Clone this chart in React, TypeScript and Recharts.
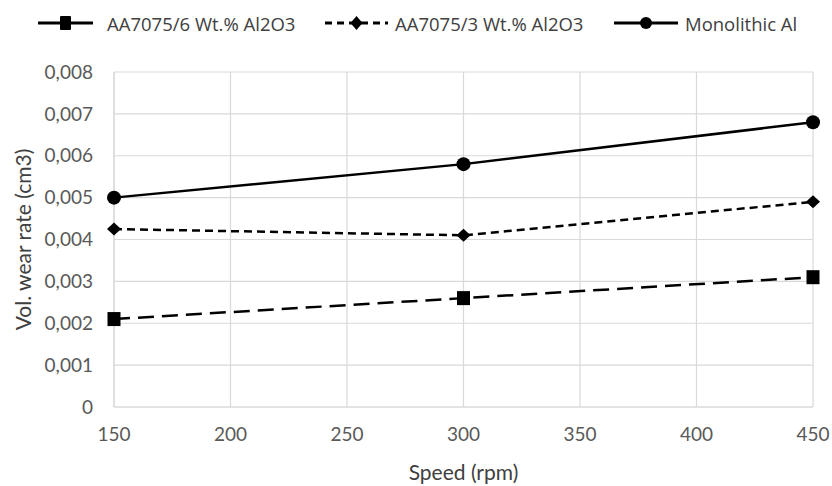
import { LineChart, Line, XAxis, YAxis, CartesianGrid, Legend } from 'recharts';

const speeds = [150, 300, 450];
const al2o3Six = [0.0021, 0.0026, 0.0031];
const al2o3Three = [0.00425, 0.0041, 0.0049];
const monolithic = [0.005, 0.0058, 0.0068];
const xTicks = [150, 200, 250, 300, 350, 400, 450];
const yTicks = [0, 0.001, 0.002, 0.003, 0.004, 0.005, 0.006, 0.007, 0.008];

const data = speeds.map((s, i) => ({
  speed: s,
  six: al2o3Six[i],
  three: al2o3Three[i],
  mono: monolithic[i],
}));

const tickFont = { fontFamily: 'Lato, sans-serif', fontSize: 19, fill: '#595959' };
const titleFont = { fontFamily: 'Lato, sans-serif', fontSize: 21, fill: '#404040' };

const SquareDot = (props: any) => {
  const { cx, cy } = props;
  return <rect x={cx - 6.5} y={cy - 7} width={13} height={14} fill="#000" />;
};

const DiamondDot = (props: any) => {
  const { cx, cy } = props;
  return <path d={`M${cx},${cy - 6.5} L${cx + 7},${cy} L${cx},${cy + 6.5} L${cx - 7},${cy} Z`} fill="#000" />;
};

const CircleDot = (props: any) => {
  const { cx, cy } = props;
  return <circle cx={cx} cy={cy} r={7} fill="#000" />;
};

// legend swatch widths / gaps
const legendItems = [
  { label: 'AA7075/6 Wt.% Al2O3', dash: undefined, marker: 'square', line: 55, gap: 14, text: 200, after: 18 },
  { label: 'AA7075/3 Wt.% Al2O3', dash: '7 5', marker: 'diamond', line: 63, gap: 7, text: 200, after: 19 },
  { label: 'Monolithic Al', dash: undefined, marker: 'circle', line: 64, gap: 7, text: 130, after: 0 },
];

function renderLegend() {
  return (
    <div style={{ display: 'flex', alignItems: 'center', height: 30, fontFamily: '"Open Sans", sans-serif', fontSize: 18.5, color: '#404040' }}>
      {legendItems.map((item, i) => {
        const m = item.line / 2;
        return (
          <div key={i} style={{ display: 'flex', alignItems: 'center', marginRight: item.after, flexShrink: 0 }}>
            <svg width={item.line} height={18} style={{ marginRight: item.gap, flexShrink: 0 }}>
              <line x1={0} y1={9} x2={item.line} y2={9} stroke="#000" strokeWidth={3} strokeDasharray={item.dash} />
              {item.marker === 'square' && <rect x={m - 5.5} y={2} width={11} height={14} fill="#000" rx={1} />}
              {item.marker === 'diamond' && (
                <path d={`M${m},2 L${m + 6},9 L${m},16 L${m - 6},9 Z`} fill="#000" />
              )}
              {item.marker === 'circle' && <circle cx={m} cy={9} r={6} fill="#000" />}
            </svg>
            <span style={{ width: item.text, whiteSpace: 'nowrap', flexShrink: 0 }}>{item.label}</span>
          </div>
        );
      })}
    </div>
  );
}

export default function App() {
  return (
    <div style={{ width: 832, height: 486, background: '#fff', position: 'absolute', left: 0, top: 0 }}>
      <LineChart width={832} height={486} data={data} margin={{ top: 42, right: 19, bottom: 0, left: 0 }}>
        <CartesianGrid stroke="#d9d9d9" strokeWidth={1.2} />
        <Legend
          verticalAlign="top"
          content={renderLegend}
          wrapperStyle={{ top: 8, left: 38, width: 790, height: 30 }}
        />
        <XAxis
          dataKey="speed"
          type="number"
          domain={[150, 450]}
          ticks={xTicks}
          tick={tickFont}
          tickLine={false}
          tickSize={0}
          tickMargin={21}
          axisLine={{ stroke: '#d9d9d9', strokeWidth: 1.2 }}
          height={79}
          label={{ value: 'Speed (rpm)', position: 'insideBottom', offset: 6, style: titleFont }}
        />
        <YAxis
          type="number"
          domain={[0, 0.008]}
          ticks={yTicks}
          tick={tickFont}
          tickFormatter={(v: number) => (v === 0 ? '0' : v.toFixed(3).replace('.', ','))}
          tickLine={false}
          tickSize={0}
          tickMargin={21}
          axisLine={{ stroke: '#d9d9d9', strokeWidth: 1.2 }}
          width={114}
          label={{ value: 'Vol. wear rate (cm3)', angle: -90, position: 'insideLeft', offset: 24, style: { ...titleFont, textAnchor: 'middle' } }}
        />
        <Line dataKey="six" stroke="#000" strokeWidth={2.5} strokeDasharray="16 8" dot={<SquareDot />} isAnimationActive={false} />
        <Line dataKey="three" stroke="#000" strokeWidth={2.5} strokeDasharray="8 5" dot={<DiamondDot />} isAnimationActive={false} />
        <Line dataKey="mono" stroke="#000" strokeWidth={2.5} dot={<CircleDot />} isAnimationActive={false} />
      </LineChart>
    </div>
  );
}
